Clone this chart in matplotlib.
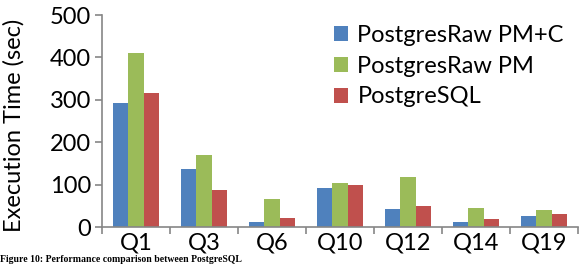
import numpy as np
import matplotlib.pyplot as plt

# Valores
queries = ['Q1', 'Q3', 'Q6', 'Q10', 'Q12', 'Q14', 'Q19']
series_names = ['PostgresRaw PM+C', 'PostgresRaw PM', 'PostgreSQL']
pm_c = [292, 138, 12, 92, 43, 13, 25]
pm = [410, 171, 67, 104, 117, 44, 41]
postgresql = [316, 87, 21, 98, 49, 20, 30]
cores = ['#4F81BD', '#9BBB59', '#C0504D']

plt.rcParams['font.family'] = ['Lato', 'DejaVu Sans']
fs = 17

fig = plt.figure(figsize=(5.82, 2.64), dpi=100)
ax = fig.add_axes([0.1753, 0.140, 0.8177, 0.803])

x = np.arange(len(queries))
w = 0.225
for k, vals in enumerate([pm_c, pm, postgresql]):
    ax.bar(x + (k - 1) * w, vals, width=w, color=cores[k], label=series_names[k])

ax.set_xlim(-0.5, len(queries) - 0.5)
ax.set_ylim(0, 500)
ax.set_yticks(range(0, 501, 100))

# rótulos no centro, traços nas fronteiras
ax.set_xticks(x)
ax.set_xticklabels(queries)
ax.set_xticks(np.arange(-0.5, len(queries), 1), minor=True)
ax.tick_params(axis='x', which='major', length=0, pad=4, labelsize=fs)
ax.tick_params(axis='x', which='minor', length=5, width=1.2, color='#868686')
ax.tick_params(axis='y', length=5, width=1.2, color='#868686', labelsize=fs, pad=3)

for s in ['top', 'right']:
    ax.spines[s].set_visible(False)
for s in ['left', 'bottom']:
    ax.spines[s].set_color('#868686')
    ax.spines[s].set_linewidth(1.2)

ax.set_ylabel('Execution Time (sec)', fontsize=fs)
ax.yaxis.set_label_coords(-0.163, 0.48)

ax.legend(loc='upper left', bbox_to_anchor=(0.487, 0.955), frameon=False,
          fontsize=fs, handlelength=0.6, handleheight=0.6, borderpad=0,
          borderaxespad=0, handletextpad=0.4, labelspacing=0.42)

# legenda da figura, na borda de baixo
fig.text(0.0, 0.0, 'Figure 10: Performance comparison between PostgreSQL',
         family='Liberation Serif', fontweight='bold', fontsize=7,
         va='bottom', ha='left')

fig.savefig('out.png', dpi=100)
